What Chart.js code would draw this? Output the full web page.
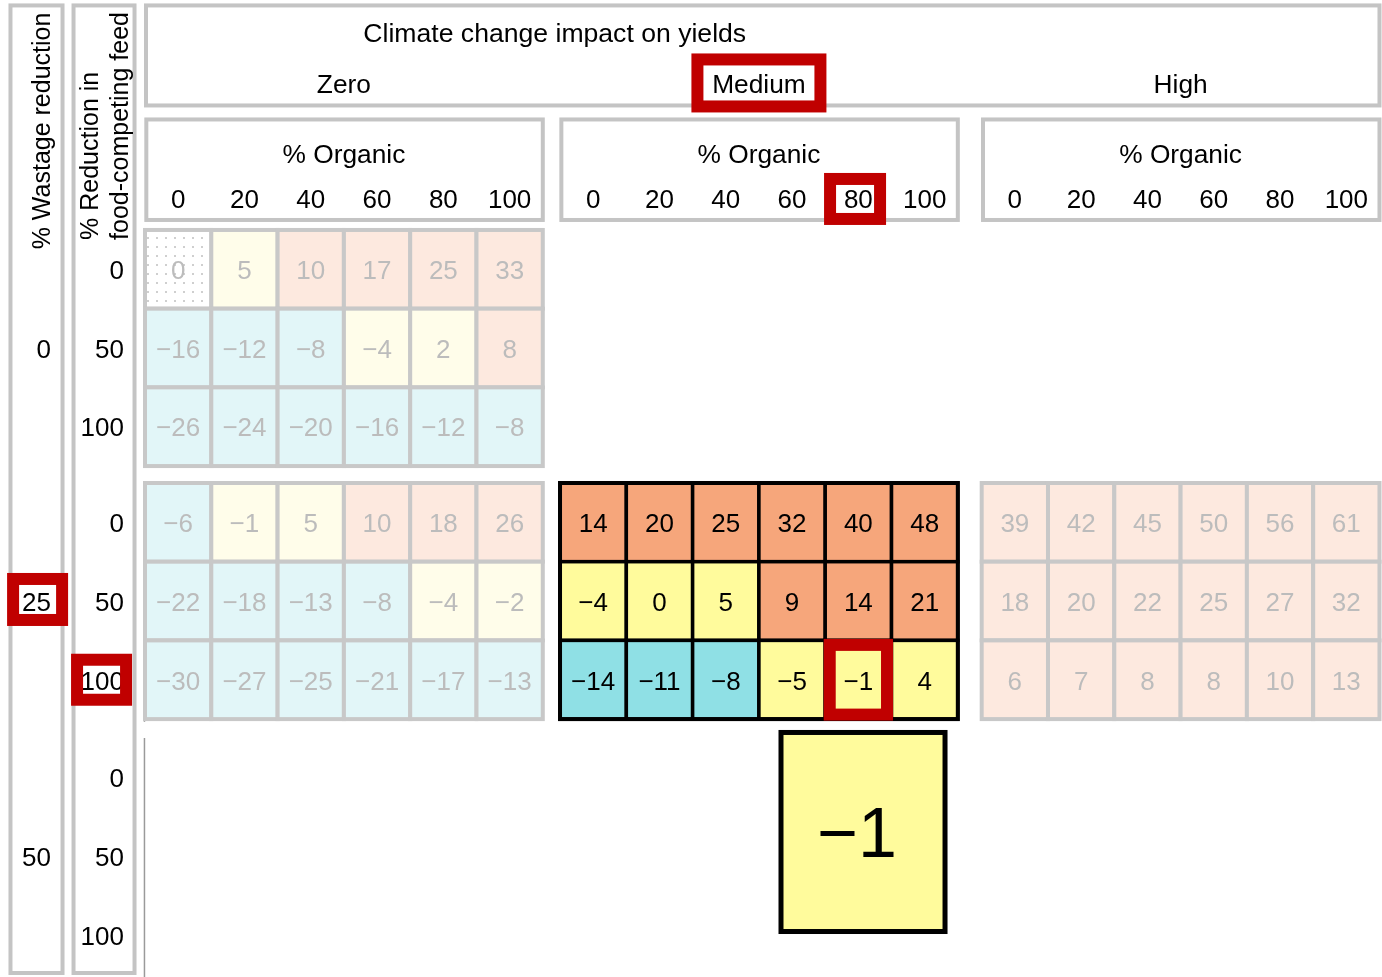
<!DOCTYPE html>
<html>
<head>
<meta charset="utf-8">
<script src="https://cdn.jsdelivr.net/npm/chart.js@4.4.0/dist/chart.umd.min.js"></script>
<style>
  html, body { margin: 0; padding: 0; background: #fff; }
  #wrap { width: 1382px; height: 977px; }
</style>
</head>
<body>
<div id="wrap"><canvas id="chart" width="1382" height="977"></canvas></div>
<script>
// labels
var climateLevels = ['Zero', 'Medium', 'High'];
var organicTicks = [0, 20, 40, 60, 80, 100];
var feedTicks = [0, 50, 100];
var wastageTicks = [0, 25, 50];

// % change, rows = feed reduction (0, 50, 100), cols = % organic (0..100)
var zeroWaste0 = [
  [0, 5, 10, 17, 25, 33],
  [-16, -12, -8, -4, 2, 8],
  [-26, -24, -20, -16, -12, -8]
];
var zeroWaste25 = [
  [-6, -1, 5, 10, 18, 26],
  [-22, -18, -13, -8, -4, -2],
  [-30, -27, -25, -21, -17, -13]
];
var mediumWaste25 = [
  [14, 20, 25, 32, 40, 48],
  [-4, 0, 5, 9, 14, 21],
  [-14, -11, -8, -5, -1, 4]
];
var highWaste25 = [
  [39, 42, 45, 50, 56, 61],
  [18, 20, 22, 25, 27, 32],
  [6, 7, 8, 8, 10, 13]
];

// which scenario is picked out
var pick = { climate: 1, wastage: 1, feed: 2, organic: 4 };

var blocks = [
  { climate: 0, wastage: 0, values: zeroWaste0, faded: true },
  { climate: 0, wastage: 1, values: zeroWaste25, faded: true },
  { climate: 2, wastage: 1, values: highWaste25, faded: true },
  { climate: 1, wastage: 1, values: mediumWaste25, faded: false }
];

// layout in cell units (1 unit = one cell)
var GROUP_OFFSET = [0, 6.26, 12.62];
var BLOCK_OFFSET = [0, 3.215, 6.455];

var FONT = '"Liberation Sans", Arial, Helvetica, sans-serif';
var RED = '#c00000';
var FRAME = '#c4c4c4';

function fmt(v) {
  return v < 0 ? '\u2212' + Math.abs(v) : String(v);
}

function cellColor(v, faded) {
  if (v > 5) return faded ? '#fde9df' : '#f6a67b';
  if (v < -5) return faded ? '#e2f6f8' : '#8fe0e5';
  return faded ? '#fffdea' : '#fffb9c';
}

function dotPattern(ctx) {
  var c = document.createElement('canvas');
  c.width = 9; c.height = 9;
  var g = c.getContext('2d');
  g.fillStyle = '#fff';
  g.fillRect(0, 0, 9, 9);
  g.fillStyle = '#cfcfcf';
  g.fillRect(3, 3, 2, 2);
  return ctx.createPattern(c, 'repeat');
}

var points = [];
blocks.forEach(function (b) {
  b.values.forEach(function (row, r) {
    row.forEach(function (v, c) {
      points.push({
        x: GROUP_OFFSET[b.climate] + c + 0.5,
        y: BLOCK_OFFSET[b.wastage] + r + 0.5,
        v: v,
        faded: b.faded,
        base: b.climate === 0 && b.wastage === 0 && r === 0 && c === 0
      });
    });
  });
});

var gridPlugin = {
  id: 'grid',
  afterDatasetsDraw: function (chart) {
    var ctx = chart.ctx;
    var xs = chart.scales.x, ys = chart.scales.y;
    function px(u) { return xs.getPixelForValue(u); }
    function py(v) { return ys.getPixelForValue(v); }
    function rect(u0, v0, u1, v1) {
      var x0 = px(u0), y0 = py(v0);
      return [x0, y0, px(u1) - x0, py(v1) - y0];
    }
    function text(str, u, v, size, color, align) {
      ctx.font = size + 'px ' + FONT;
      ctx.fillStyle = color;
      ctx.textAlign = align || 'center';
      ctx.textBaseline = 'middle';
      ctx.fillText(str, px(u), py(v) + size * 0.1);
    }
    function redFrame(cx, cy, w, h) {
      ctx.strokeStyle = RED;
      ctx.lineWidth = 12;
      ctx.strokeRect(cx - w / 2, cy - h / 2, w, h);
    }

    ctx.save();

    // grey frames
    ctx.strokeStyle = FRAME;
    ctx.lineWidth = 4;
    var frames = [
      [-2.029, -2.853, -1.244, 9.441],
      [-1.078, -2.853, -0.158, 9.441],
      [0.015, -2.853, 18.62, -1.582]
    ];
    GROUP_OFFSET.forEach(function (g) {
      frames.push([g + 0.02, -1.404, g + 6.0, -0.127]);
    });
    frames.forEach(function (f) {
      var r = rect(f[0], f[1], f[2], f[3]);
      ctx.strokeRect(r[0], r[1], r[2], r[3]);
    });

    // thin edge lines left of lower blocks
    ctx.strokeStyle = '#9a9a9a';
    ctx.lineWidth = 1.5;
    [[3.19, 6.25], [6.455, 9.5]].forEach(function (s) {
      ctx.beginPath();
      ctx.moveTo(px(-0.008), py(s[0]));
      ctx.lineTo(px(-0.008), py(s[1]));
      ctx.stroke();
    });

    // cells
    var pattern = dotPattern(ctx);
    var data = chart.data.datasets[0].data;
    data.forEach(function (p) {
      var r = rect(p.x - 0.5, p.y - 0.5, p.x + 0.5, p.y + 0.5);
      ctx.fillStyle = p.base ? pattern : cellColor(p.v, p.faded);
      ctx.fillRect(r[0], r[1], r[2], r[3]);
      ctx.strokeStyle = p.faded ? '#c8c8c8' : '#000';
      ctx.lineWidth = p.faded ? 4 : 3.5;
      ctx.strokeRect(r[0], r[1], r[2], r[3]);
    });
    data.forEach(function (p) {
      text(fmt(p.v), p.x, p.y, 26, p.faded ? '#bcbcbc' : '#000');
    });
    // outer edge of the picked block
    var ob = rect(GROUP_OFFSET[pick.climate], BLOCK_OFFSET[pick.wastage], GROUP_OFFSET[pick.climate] + 6, BLOCK_OFFSET[pick.wastage] + 3);
    ctx.strokeStyle = '#000';
    ctx.lineWidth = 4;
    ctx.strokeRect(ob[0], ob[1], ob[2], ob[3]);

    // header
    text('Climate change impact on yields', 6.18, -2.516, 26.6, '#000');
    climateLevels.forEach(function (name, i) {
      text(name, GROUP_OFFSET[i] + 3, -1.868, 26.3, '#000');
    });
    GROUP_OFFSET.forEach(function (g) {
      text('% Organic', g + 3, -0.978, 26.3, '#000');
      organicTicks.forEach(function (t, c) {
        text(String(t), g + c + 0.5, -0.407, 26, '#000');
      });
    });

    // left labels
    BLOCK_OFFSET.forEach(function (b, i) {
      text(String(wastageTicks[i]), -1.418, b + 1.5, 26, '#000', 'right');
      feedTicks.forEach(function (t, r) {
        text(String(t), -0.317, b + r + 0.5, 26, '#000', 'right');
      });
    });

    // rotated titles
    ctx.fillStyle = '#000';
    ctx.font = '25px ' + FONT;
    ctx.textBaseline = 'alphabetic';
    ctx.save();
    ctx.translate(px(-1.433), py(-1.258));
    ctx.rotate(-Math.PI / 2);
    ctx.textAlign = 'center';
    ctx.fillText('% Wastage reduction', 0, 0);
    ctx.restore();
    ctx.save();
    ctx.translate(px(-0.709), py(0.127));
    ctx.rotate(-Math.PI / 2);
    ctx.textAlign = 'left';
    ctx.fillText('% Reduction in', 0, 0);
    ctx.restore();
    ctx.save();
    ctx.translate(px(-0.256), py(0.127));
    ctx.rotate(-Math.PI / 2);
    ctx.textAlign = 'left';
    ctx.fillText('food-competing feed', 0, 0);
    ctx.restore();

    // enlarged picked value
    var pv = mediumWaste25[pick.feed][pick.organic];
    var pu = GROUP_OFFSET[pick.climate] + pick.organic + 0.57;
    var zb = rect(pu - 1.237, BLOCK_OFFSET[2] - 0.07, pu + 1.237, BLOCK_OFFSET[2] + 2.459);
    ctx.fillStyle = cellColor(pv, false);
    ctx.fillRect(zb[0], zb[1], zb[2], zb[3]);
    ctx.strokeStyle = '#000';
    ctx.lineWidth = 5;
    ctx.strokeRect(zb[0], zb[1], zb[2], zb[3]);
    text(fmt(pv), pu - 0.09, BLOCK_OFFSET[2] + 1.18, 70, '#000');

    // red highlight frames
    redFrame(px(GROUP_OFFSET[pick.climate] + 3), py(-1.868), 123, 47);
    redFrame(px(GROUP_OFFSET[pick.climate] + pick.organic + 0.45), py(-0.394), 50, 40);
    redFrame(px(-1.62), py(BLOCK_OFFSET[pick.wastage] + 1.48), 49, 41);
    redFrame(px(-0.655), py(BLOCK_OFFSET[pick.wastage] + pick.feed + 0.5), 49, 40);
    var pc = rect(GROUP_OFFSET[pick.climate] + pick.organic, BLOCK_OFFSET[pick.wastage] + pick.feed,
                  GROUP_OFFSET[pick.climate] + pick.organic + 1, BLOCK_OFFSET[pick.wastage] + pick.feed + 1);
    redFrame(pc[0] + pc[2] / 2, pc[1] + pc[3] / 2, pc[2] - 9, pc[3] - 9);

    ctx.restore();
  }
};

new Chart(document.getElementById('chart'), {
  type: 'scatter',
  data: {
    datasets: [{
      data: points,
      pointRadius: 0,
      pointHoverRadius: 0
    }]
  },
  options: {
    responsive: false,
    animation: false,
    events: [],
    layout: { padding: 0 },
    plugins: { legend: { display: false }, tooltip: { enabled: false } },
    scales: {
      x: { type: 'linear', min: -2.187, max: 18.658, display: false },
      y: { type: 'linear', reverse: true, min: -2.922, max: 9.492, display: false }
    }
  },
  plugins: [gridPlugin]
});
</script>
</body>
</html>
